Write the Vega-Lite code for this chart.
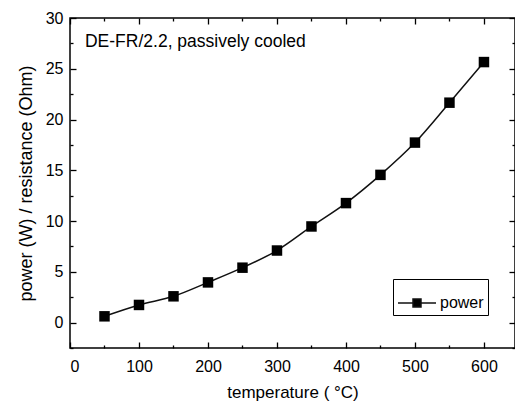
{
  "$schema": "https://vega.github.io/schema/vega-lite/v6.json",
  "width": 445,
  "height": 330,
  "autosize": "none",
  "padding": {"left": 70, "top": 18, "right": 0, "bottom": 55},
  "background": "white",
  "config": {
    "view": {"stroke": "black", "strokeWidth": 1.5},
    "font": "Liberation Sans",
    "axis": {"labelFont": "Liberation Sans", "titleFont": "Liberation Sans", "labelColor": "black", "titleColor": "black", "tickColor": "black", "domain": false, "grid": false, "labelFontSize": 16, "titleFontSize": 17, "titleFontWeight": "normal", "tickWidth": 1.3}
  },
  "data": {"values": [
    {"t": 50, "p": 0.62, "s": "power"},
    {"t": 100, "p": 1.74, "s": "power"},
    {"t": 150, "p": 2.59, "s": "power"},
    {"t": 200, "p": 3.96, "s": "power"},
    {"t": 250, "p": 5.41, "s": "power"},
    {"t": 300, "p": 7.1, "s": "power"},
    {"t": 350, "p": 9.47, "s": "power"},
    {"t": 400, "p": 11.77, "s": "power"},
    {"t": 450, "p": 14.55, "s": "power"},
    {"t": 500, "p": 17.73, "s": "power"},
    {"t": 550, "p": 21.66, "s": "power"},
    {"t": 600, "p": 25.66, "s": "power"}
  ]},
  "layer": [
    {
      "mark": {"type": "line", "interpolate": "monotone", "strokeWidth": 1.5},
      "encoding": {
        "x": {"field": "t", "type": "quantitative", "scale": {"domain": [0, 645], "nice": false, "zero": false},
          "axis": {"orient": "bottom", "values": [0, 50, 100, 150, 200, 250, 300, 350, 400, 450, 500, 550, 600],
            "labelExpr": "datum.value % 100 === 0 ? datum.label : ''",
            "tickSize": {"condition": {"test": "datum.value % 100 === 0", "value": -6}, "value": -3},
            "labelPadding": 16, "title": "temperature ( °C)", "titlePadding": 10}},
        "y": {"field": "p", "type": "quantitative", "scale": {"domain": [-2.5, 30], "nice": false, "zero": false},
          "axis": {"orient": "left", "values": [-2.5, 0, 2.5, 5, 7.5, 10, 12.5, 15, 17.5, 20, 22.5, 25, 27.5, 30],
            "labelExpr": "datum.value % 5 === 0 ? datum.label : ''",
            "tickSize": {"condition": {"test": "datum.value % 5 === 0", "value": -6}, "value": -3},
            "labelPadding": 13, "title": "power (W) / resistance (Ohm)", "titleFontSize": 18, "titlePadding": 10}},
        "color": {"field": "s", "type": "nominal", "scale": {"range": ["#111111"]},
          "legend": {"title": null, "orient": "none", "legendX": 323, "legendY": 261, "strokeColor": "black", "padding": 4,
            "symbolType": "M-1,0H-0.22M0.22,0H1M-0.21,-0.21H0.21V0.21H-0.21Z", "symbolSize": 1444, "symbolStrokeWidth": 1.5,
            "labelFontSize": 16, "labelColor": "black", "labelOffset": 3,
            "encode": {"symbols": {"update": {"fill": {"value": "black"}, "stroke": {"value": "black"}, "opacity": {"value": 1}}}}}}
      }
    },
    {
      "mark": {"type": "point", "shape": "square", "filled": true, "size": 110, "color": "black", "opacity": 1},
      "encoding": {
        "x": {"field": "t", "type": "quantitative", "axis": null},
        "y": {"field": "p", "type": "quantitative", "axis": null}
      }
    },
    {
      "data": {"values": [{"t": 21.7, "p": 27.6, "label": "DE-FR/2.2, passively cooled"}]},
      "mark": {"type": "text", "align": "left", "baseline": "middle", "fontSize": 17.5, "font": "Liberation Sans", "color": "black"},
      "encoding": {
        "x": {"field": "t", "type": "quantitative", "axis": null},
        "y": {"field": "p", "type": "quantitative", "axis": null},
        "text": {"field": "label"}
      }
    },
    {
      "mark": {"type": "point", "opacity": 0},
      "encoding": {
        "x": {"field": "t", "type": "quantitative",
          "axis": {"orient": "top", "values": [0, 50, 100, 150, 200, 250, 300, 350, 400, 450, 500, 550, 600], "labels": false, "title": null,
            "tickSize": {"condition": {"test": "datum.value % 100 === 0", "value": -6}, "value": -3}}},
        "y": {"field": "p", "type": "quantitative",
          "axis": {"orient": "right", "values": [-2.5, 0, 2.5, 5, 7.5, 10, 12.5, 15, 17.5, 20, 22.5, 25, 27.5, 30], "labels": false, "title": null,
            "tickSize": {"condition": {"test": "datum.value % 5 === 0", "value": -6}, "value": -3}}}
      }
    }
  ],
  "resolve": {"axis": {"x": "independent", "y": "independent"}}
}
